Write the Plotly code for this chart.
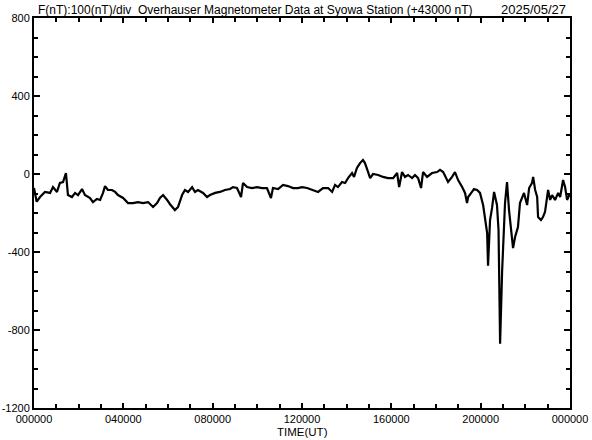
import plotly.graph_objects as go

# Time in hours (UT) and total field deviation F - 43000 nT
hours = [
    0.00, 0.12, 0.27, 0.49, 0.72, 0.85, 1.03, 1.16, 1.30, 1.43, 1.52, 1.70, 1.84, 1.97,
    2.15, 2.28, 2.51, 2.64, 2.82, 2.96, 3.09, 3.18, 3.31, 3.49, 3.63, 3.76, 3.99, 4.21,
    4.43, 4.66, 4.88, 5.11, 5.33, 5.51, 5.64, 5.78, 5.96, 6.09, 6.31, 6.45, 6.63, 6.76,
    6.90, 7.08, 7.21, 7.34, 7.57, 7.75, 7.88, 8.11, 8.33, 8.55, 8.78, 8.91, 9.09, 9.27,
    9.36, 9.54, 9.76, 9.99, 10.21, 10.43, 10.61, 10.70, 10.93, 11.15, 11.37, 11.60, 11.82,
    12.00, 12.23, 12.49, 12.72, 12.94, 13.17, 13.35, 13.48, 13.61, 13.79, 13.93, 14.06,
    14.24, 14.33, 14.46, 14.60, 14.73, 14.82, 14.96, 15.05, 15.18, 15.41, 15.63, 15.85,
    16.08, 16.26, 16.35, 16.48, 16.61, 16.75, 16.93, 17.06, 17.20, 17.33, 17.42, 17.60,
    17.82, 18.05, 18.18, 18.32, 18.54, 18.72, 18.85, 18.99, 19.17, 19.30, 19.39, 19.44,
    19.61, 19.70, 19.84, 19.97, 20.11, 20.20, 20.29, 20.33, 20.42, 20.51, 20.60, 20.73,
    20.80, 20.87, 20.96, 21.09, 21.18, 21.27, 21.36, 21.45, 21.54, 21.67, 21.76, 21.85,
    21.94, 22.08, 22.17, 22.30, 22.35, 22.44, 22.53, 22.57, 22.70, 22.79, 22.88, 23.02,
    23.11, 23.20, 23.33, 23.47, 23.56, 23.69, 23.78, 23.87, 24.00,
]
values = [
    -72, -142, -118, -92, -97, -67, -92, -46, -41, 5, -108, -118, -97, -108,
    -77, -108, -123, -144, -128, -133, -97, -62, -82, -82, -92, -108, -123, -149,
    -149, -144, -149, -144, -169, -149, -123, -108, -133, -155, -185, -169, -108, -82,
    -92, -67, -92, -82, -97, -118, -108, -97, -92, -82, -77, -67, -72, -118,
    -46, -67, -72, -67, -72, -72, -123, -72, -77, -56, -62, -72, -72,
    -67, -72, -82, -92, -72, -72, -92, -56, -67, -41, -46, -21,
    5, -15, 31, 56, 72, 56, 10, -21, 0, -5, -15, -21,
    -21, 5, -67, 10, -15, -5, -21, -5, -21, -72, 10, -15,
    5, 10, 21, 10, -41, -15, 10, -31, -67, -97, -149, -118,
    -92, -77, -82, -97, -159, -221, -303, -470, -236, -174, -92, -159,
    -287, -870, -500, -150, -41, -185, -303, -380, -323, -272, -149, -123,
    -97, -159, -72, -46, -15, -82, -118, -221, -236, -221, -195, -82,
    -133, -108, -133, -97, -118, -31, -67, -133, -100,
]

x_tick_vals = [0, 4, 8, 12, 16, 20, 24]
x_tick_text = ["000000", "040000", "080000", "120000", "160000", "200000", "000000"]
y_tick_vals = [800, 400, 0, -400, -800, -1200]
y_tick_text = ["800", "400", "0", "-400", "-800", "-1200"]

title_text = "F(nT):100(nT)/div  Overhauser Magnetometer Data at Syowa Station (+43000 nT)"
date_text = "2025/05/27"
x_label = "TIME(UT)"

FONT = "Liberation Sans, Arial, sans-serif"

fig = go.Figure()
fig.add_trace(go.Scatter(
    x=hours, y=values, mode="lines",
    line=dict(color="black", width=2.2),
    hoverinfo="skip", showlegend=False,
))

fig.update_layout(
    width=592, height=440,
    margin=dict(l=34, r=22, t=18, b=32, autoexpand=False),
    paper_bgcolor="white", plot_bgcolor="white",
    font=dict(family=FONT, size=11, color="black"),
    showlegend=False,
    xaxis=dict(
        range=[0, 24], tickvals=x_tick_vals, ticktext=x_tick_text, automargin=False,
        showgrid=False, zeroline=False, showline=True, linecolor="black", linewidth=2,
        mirror="ticks", ticks="inside", ticklen=5, tickwidth=2, tickcolor="black",
        minor=dict(dtick=1, ticks="inside", ticklen=4, tickwidth=2, tickcolor="black"),
        tickfont=dict(size=11), fixedrange=True,
    ),
    yaxis=dict(
        range=[-1200, 800], tickvals=y_tick_vals, ticktext=y_tick_text, automargin=False,
        showgrid=False, zeroline=False, showline=True, linecolor="black", linewidth=2,
        mirror="ticks", ticks="inside", ticklen=6, tickwidth=2, tickcolor="black",
        minor=dict(dtick=100, ticks="inside", ticklen=4, tickwidth=2, tickcolor="black"),
        tickfont=dict(size=11), fixedrange=True,
    ),
    annotations=[
        dict(text=title_text, xref="paper", yref="paper", x=0.003, y=1.0,
             xanchor="left", yanchor="bottom", showarrow=False, yshift=-1,
             font=dict(size=12)),
        dict(text=date_text, xref="paper", yref="paper", x=0.997, y=1.0,
             xanchor="right", yanchor="bottom", showarrow=False, yshift=-1,
             font=dict(size=13)),
        dict(text=x_label, xref="paper", yref="paper", x=0.5, y=0,
             xanchor="center", yanchor="top", showarrow=False, yshift=-16,
             font=dict(size=11.5)),
    ],
)

fig.write_html("out.html", config={"displayModeBar": False},
               post_script="document.body.style.margin='0';")
